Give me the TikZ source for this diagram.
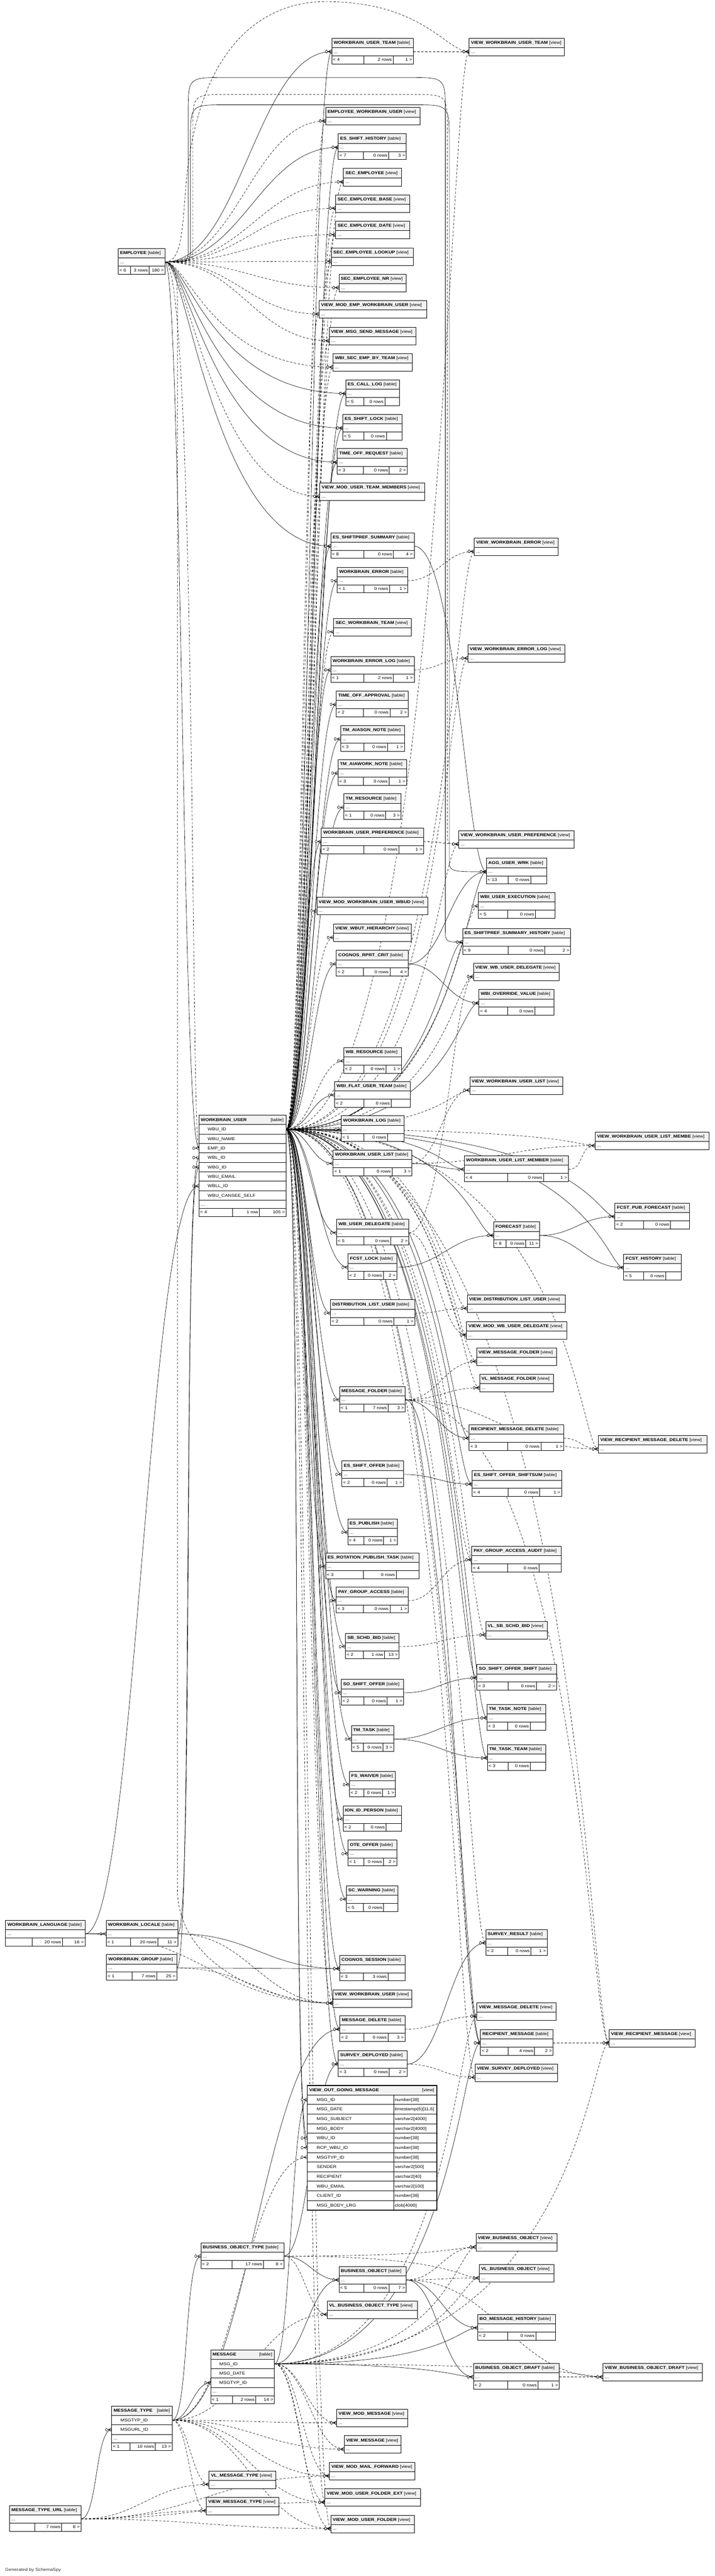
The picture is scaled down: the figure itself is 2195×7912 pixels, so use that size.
\documentclass[tikz,border=0pt]{standalone}
\usepackage{fontspec}
\setmainfont{Liberation Sans}[FakeStretch=1.15]
\usetikzlibrary{calc}
\pgfdeclarelayer{bg}
\pgfdeclarelayer{edges}
\pgfsetlayers{bg,edges,main}
\tikzset{
 tb/.style={draw=black,line width=1.1pt,fill=white},
 hd/.style={draw=black,line width=1.1pt,fill=black!5},
 tx/.style={inner sep=0pt,outer sep=0pt,text height=10.5pt,text depth=1.4pt,font=\fontsize{12.7}{15}\selectfont},
 fks/.style={line width=1pt},
 fkd/.style={line width=1pt,dash pattern=on 7pt off 5pt},
 mkline/.style={line width=1pt},
}
\def\divsplit#1/#2\relax{\def\dA{#1}\def\dB{#2}}
% standard table: id, x, y, width, title, footer1, footer2, footer3, dividers (a/b or empty)
\newcommand\dbtable[9]{%
 \if\relax\detokenize{#9}\relax
   \pgfmathsetmacro\dA{#4/2-27}\pgfmathsetmacro\dB{\dA+0.59*(#4-\dA)}%
 \else\divsplit#9\relax\fi
 \begin{scope}[shift={(#2,#3)}]
  \path[hd] (0,0) rectangle (#4,29);
  \path[tb] (0,29) rectangle (#4,54);
  \path[tb] (0,54) rectangle (#4,79);
  \draw[line width=1.1pt] (\dA,54) -- (\dA,79) (\dB,54) -- (\dB,79);
  \node[tx,anchor=west] (#1-t) at (6,13.5) {\textbf{#5} [table]};
  \node[tx,anchor=west] (#1-d) at (6,41.5) {...};
  \node[tx,anchor=west] (#1-a) at (4,66.5) {#6};
  \node[tx,anchor=east] (#1-b) at ({\dB-4},66.5) {#7};
  \node[tx,anchor=east] (#1-c) at ({#4-4},66.5) {#8};
  \coordinate (#1-l) at (0,41.5);
  \coordinate (#1-r) at (#4,41.5);
 \end{scope}}
% view: id, x, y, width, title
\newcommand\dbview[5]{%
 \begin{scope}[shift={(#2,#3)}]
  \path[hd] (0,0) rectangle (#4,29);
  \path[tb] (0,29) rectangle (#4,54);
  \node[tx,anchor=west] (#1-t) at (6,13.5) {\textbf{#5} [view]};
  \node[tx,anchor=west] (#1-d) at (6,41.5) {...};
  \coordinate (#1-l) at (0,41.5);
  \coordinate (#1-r) at (#4,41.5);
 \end{scope}}
% column row of a detailed table: node name, top, width, text, height
\newcommand\colrow[5]{%
 \path[tb] (0,#2) rectangle (#3,{#2+#5});
 \node[tx,anchor=west] (#1) at (27,{#2+#5/2}) {#4};}
% row of VIEW_OUT_GOING_MESSAGE
\newcommand\vogrow[4]{%
 \path[tb] (0,#2) rectangle (265,{#2+29.5});
 \path[tb] (265,#2) rectangle (398,{#2+29.5});
 \node[tx,anchor=west] (vogm-n#1) at (29,{#2+14.75}) {#3};
 \node[tx,anchor=west] (vogm-y#1) at (269,{#2+14.75}) {#4};}
% crow's foot with open circle at the child end
\newcommand\fkmark[1]{%
 \begin{scope}[shift={(#1)}]
  \draw[mkline] (-11,0) -- (0,-5.5) (-11,0) -- (0,0) (-11,0) -- (0,5.5);
  \draw[mkline,fill=white] (-16,0) ellipse[x radius=3pt,y radius=4.3pt];
 \end{scope}}
% connector parent -> child
\newcommand\fklink[3][fks]{%
 \draw[#1] let \p1=(#2), \p2=(#3),
   \n3={and(\x2>1350,or(\x1<1000,abs(\y2-\y1)>600))},
   \n1={ifthenelse(\n3,\x2-90,\x1+max(50,0.45*(\x2-\x1)))},
   \n2={ifthenelse(\n3,\x2-60,\x2-max(50,0.45*(\x2-\x1)))}
   in (\p1) .. controls (\n1,\y1) and (\n2,\y2) .. (\p2);
 \fkmark{#3}}
% connector that first hangs down beside the parent
\newcommand\fkhang[3][fks]{%
 \draw[#1] let \p1=(#2), \p2=(#3) in
   (\p1) .. controls (\x1+70,\y1) and (\x1+150,\y2) .. (\p2);
 \fkmark{#3}}
% connector routed over the top: style, parent, child, x up, y top, x down, radius
\newcommand\fkover[7][fks]{%
 \draw[#1] let \p1=(#2), \p2=(#3), \p3=(#4,#5), \p4=(#6,#5) in
  (\p1) .. controls (\x3,\y1) and (\x3,\y1) .. (\x3,\y1+40)
  -- (\x3,\y3-#7)
  .. controls (\x3,\y3) and (\x3,\y3) .. (\x3+#7,\y3)
  -- (\x4-#7,\y3)
  .. controls (\x4,\y3) and (\x4,\y3) .. (\x4,\y3-#7)
  -- (\x4,\y2+40)
  .. controls (\x4,\y2) and (\x4,\y2) .. (\p2);
 \fkmark{#3}}

\begin{document}
\begin{tikzpicture}[x=1pt,y=-1pt]
\useasboundingbox (0,0) rectangle (2195,7912);
\begin{pgfonlayer}{bg}
\fill[white] (0,0) rectangle (2195,7912);
\end{pgfonlayer}

% ---------------- tables and views ----------------
\dbtable{emp}{363}{763}{144}{EMPLOYEE}{< 6}{3 rows}{180 >}{38/95}
\dbtable{wut}{1019}{117}{251}{WORKBRAIN\_USER\_TEAM}{< 4}{2 rows}{1 >}{}
\dbview{vwut}{1441}{117}{293}{VIEW\_WORKBRAIN\_USER\_TEAM}
\dbview{ewu}{1000}{330}{290}{EMPLOYEE\_WORKBRAIN\_USER}
\dbtable{esh}{1039}{411}{209}{ES\_SHIFT\_HISTORY}{< 7}{0 rows}{3 >}{}
\dbview{sece}{1055}{517}{179}{SEC\_EMPLOYEE}
\dbview{seceb}{1031}{598}{227}{SEC\_EMPLOYEE\_BASE}
\dbview{secd}{1031}{679}{227}{SEC\_EMPLOYEE\_DATE}
\dbview{secl}{1018}{761}{252}{SEC\_EMPLOYEE\_LOOKUP}
\dbview{secn}{1041}{842}{207}{SEC\_EMPLOYEE\_NR}
\dbview{vmewu}{980}{923}{330}{VIEW\_MOD\_EMP\_WORKBRAIN\_USER}
\dbview{vmsm}{1011}{1005}{267}{VIEW\_MSG\_SEND\_MESSAGE}
\dbview{wsebt}{1023}{1086}{244}{WBI\_SEC\_EMP\_BY\_TEAM}
\dbtable{ecl}{1062}{1167}{165}{ES\_CALL\_LOG}{< 5}{0 rows}{}{}
\dbtable{esl}{1053}{1273}{182}{ES\_SHIFT\_LOCK}{< 5}{0 rows}{}{}
\dbtable{tor}{1036}{1378}{215}{TIME\_OFF\_REQUEST}{< 3}{0 rows}{2 >}{}
\dbview{vmutm}{982}{1483}{323}{VIEW\_MOD\_USER\_TEAM\_MEMBERS}
\dbtable{essum}{1016}{1636}{256}{ES\_SHIFTPREF\_SUMMARY}{< 8}{0 rows}{4 >}{}
\dbview{vwe}{1457}{1652}{258}{VIEW\_WORKBRAIN\_ERROR}
\dbtable{wer}{1036}{1742}{216}{WORKBRAIN\_ERROR}{< 1}{0 rows}{1 >}{}
\dbview{swt}{1025}{1899}{239}{SEC\_WORKBRAIN\_TEAM}
\dbview{vwel}{1437}{1980}{298}{VIEW\_WORKBRAIN\_ERROR\_LOG}
\dbtable{werl}{1016}{2016}{256}{WORKBRAIN\_ERROR\_LOG}{< 1}{2 rows}{1 >}{}
\dbtable{toa}{1033}{2122}{221}{TIME\_OFF\_APPROVAL}{< 2}{0 rows}{2 >}{}
\dbtable{tmas}{1046}{2228}{196}{TM\_AIASGN\_NOTE}{< 3}{0 rows}{1 >}{}
\dbtable{tmaw}{1038}{2333}{211}{TM\_AIAWORK\_NOTE}{< 3}{0 rows}{1 >}{}
\dbtable{tmr}{1056}{2438}{176}{TM\_RESOURCE}{< 1}{0 rows}{3 >}{}
\dbtable{wup}{987}{2543}{314}{WORKBRAIN\_USER\_PREFERENCE}{< 2}{0 rows}{1 >}{}
\dbview{vwup}{1409}{2551}{355}{VIEW\_WORKBRAIN\_USER\_PREFERENCE}
\dbtable{agg}{1494}{2636}{186}{AGG\_USER\_WRK}{< 13}{0 rows}{}{}
\dbtable{wue}{1469}{2741}{235}{WBI\_USER\_EXECUTION}{< 5}{0 rows}{}{}
\dbview{vmwuw}{973}{2756}{341}{VIEW\_MOD\_WORKBRAIN\_USER\_WBUD}
\dbview{vwh}{1024}{2838}{240}{VIEW\_WBUT\_HIERARCHY}
\dbtable{essh}{1421}{2852}{332}{ES\_SHIFTPREF\_SUMMARY\_HISTORY}{< 9}{0 rows}{2 >}{}
\dbtable{crc}{1033}{2919}{221}{COGNOS\_RPRT\_CRIT}{< 2}{0 rows}{4 >}{}
\dbview{vwbud}{1454}{2958}{264}{VIEW\_WB\_USER\_DELEGATE}
\dbtable{wov}{1471}{3039}{230}{WBI\_OVERRIDE\_VALUE}{< 4}{0 rows}{}{}
\dbtable{wbr}{1056}{3217}{177}{WB\_RESOURCE}{< 2}{0 rows}{1 >}{}
\dbview{vwul}{1443}{3307}{286}{VIEW\_WORKBRAIN\_USER\_LIST}
\dbtable{wfut}{1028}{3322}{232}{WBI\_FLAT\_USER\_TEAM}{< 2}{0 rows}{}{}
\dbtable{wlog}{1048}{3427}{193}{WORKBRAIN\_LOG}{< 1}{0 rows}{}{}
\dbview{vwulm}{1828}{3477}{350}{VIEW\_WORKBRAIN\_USER\_LIST\_MEMBE}
\dbtable{wul}{1023}{3532}{242}{WORKBRAIN\_USER\_LIST}{< 1}{0 rows}{3 >}{}
\dbtable{wulm}{1426}{3550}{320}{WORKBRAIN\_USER\_LIST\_MEMBER}{< 4}{0 rows}{1 >}{}
\dbtable{fpf}{1889}{3695}{229}{FCST\_PUB\_FORECAST}{< 2}{0 rows}{}{}
\dbtable{wud}{1034}{3745}{222}{WB\_USER\_DELEGATE}{< 5}{0 rows}{2 >}{}
\dbtable{fc}{1516}{3753}{141}{FORECAST}{< 8}{0 rows}{11 >}{39/99}
\dbtable{fl}{1069}{3851}{150}{FCST\_LOCK}{< 2}{0 rows}{2 >}{}
\dbtable{fh}{1916}{3852}{176}{FCST\_HISTORY}{< 5}{0 rows}{}{}
\dbview{vdlu}{1435}{3977}{301}{VIEW\_DISTRIBUTION\_LIST\_USER}
\dbtable{dlu}{1015}{3992}{259}{DISTRIBUTION\_LIST\_USER}{< 2}{0 rows}{1 >}{}
\dbview{vmwud}{1433}{4059}{308}{VIEW\_MOD\_WB\_USER\_DELEGATE}
\dbview{vmf}{1464}{4140}{245}{VIEW\_MESSAGE\_FOLDER}
\dbview{vlmf}{1473}{4221}{227}{VL\_MESSAGE\_FOLDER}
\dbtable{mf}{1043}{4258}{202}{MESSAGE\_FOLDER}{< 1}{7 rows}{3 >}{}
\dbtable{rmd}{1441}{4376}{291}{RECIPIENT\_MESSAGE\_DELETE}{< 3}{0 rows}{1 >}{}
\dbview{vrmd}{1838}{4409}{333}{VIEW\_RECIPIENT\_MESSAGE\_DELETE}
\dbtable{eso}{1050}{4487}{189}{ES\_SHIFT\_OFFER}{< 2}{0 rows}{1 >}{}
\dbtable{esos}{1450}{4517}{275}{ES\_SHIFT\_OFFER\_SHIFTSUM}{< 4}{0 rows}{1 >}{}
\dbtable{esp}{1068}{4665}{153}{ES\_PUBLISH}{< 4}{0 rows}{1 >}{}
\dbtable{pgaa}{1449}{4749}{274}{PAY\_GROUP\_ACCESS\_AUDIT}{< 4}{0 rows}{}{}
\dbtable{erpt}{1000}{4770}{287}{ES\_ROTATION\_PUBLISH\_TASK}{< 3}{0 rows}{}{}
\dbtable{pga}{1033}{4875}{221}{PAY\_GROUP\_ACCESS}{< 3}{0 rows}{1 >}{}
\dbview{vlsb}{1492}{4980}{189}{VL\_SB\_SCHD\_BID}
\dbtable{ssb}{1061}{5016}{165}{SB\_SCHD\_BID}{< 2}{1 row}{13 >}{}
\dbtable{soss}{1465}{5112}{244}{SO\_SHIFT\_OFFER\_SHIFT}{< 3}{0 rows}{2 >}{}
\dbtable{so}{1048}{5158}{192}{SO\_SHIFT\_OFFER}{< 2}{0 rows}{1 >}{}
\dbtable{ttn}{1496}{5235}{181}{TM\_TASK\_NOTE}{< 3}{0 rows}{}{}
\dbtable{tt}{1079}{5300}{130}{TM\_TASK}{< 5}{0 rows}{3 >}{37/97}
\dbtable{ttt}{1497}{5358}{180}{TM\_TASK\_TEAM}{< 3}{0 rows}{}{}
\dbtable{fsw}{1073}{5440}{142}{FS\_WAIVER}{< 2}{0 rows}{1 >}{}
\dbtable{iip}{1054}{5546}{180}{ION\_ID\_PERSON}{< 2}{0 rows}{}{}
\dbtable{ote}{1069}{5652}{150}{OTE\_OFFER}{< 1}{0 rows}{2 >}{}
\dbtable{scw}{1064}{5792}{158}{SC\_WARNING}{< 5}{0 rows}{}{}
\dbtable{wlang}{17}{5898}{244}{WORKBRAIN\_LANGUAGE}{}{20 rows}{16 >}{81/175}
\dbtable{wloc}{326}{5898}{220}{WORKBRAIN\_LOCALE}{< 1}{20 rows}{11 >}{75/159}
\dbtable{sr}{1492}{5926}{189}{SURVEY\_RESULT}{< 2}{0 rows}{1 >}{}
\dbtable{wgrp}{327}{6003}{216}{WORKBRAIN\_GROUP}{< 1}{7 rows}{25 >}{78/155}
\dbtable{cs}{1043}{6005}{201}{COGNOS\_SESSION}{< 3}{3 rows}{}{}
\dbview{vwu}{1022}{6111}{243}{VIEW\_WORKBRAIN\_USER}
\dbview{vmd}{1465}{6151}{243}{VIEW\_MESSAGE\_DELETE}
\dbtable{md}{1044}{6191}{200}{MESSAGE\_DELETE}{< 2}{0 rows}{3 >}{}
\dbtable{rm}{1476}{6233}{223}{RECIPIENT\_MESSAGE}{< 2}{4 rows}{2 >}{}
\dbview{vrm}{1871}{6233}{264}{VIEW\_RECIPIENT\_MESSAGE}
\dbtable{sd}{1039}{6298}{211}{SURVEY\_DEPLOYED}{< 3}{0 rows}{2 >}{}
\dbview{vsd}{1459}{6339}{254}{VIEW\_SURVEY\_DEPLOYED}
\dbview{vbo}{1462}{6860}{249}{VIEW\_BUSINESS\_OBJECT}
\dbtable{bot}{617}{6888}{255}{BUSINESS\_OBJECT\_TYPE}{< 2}{17 rows}{8 >}{96/192}
\dbview{vlbo}{1472}{6955}{229}{VL\_BUSINESS\_OBJECT}
\dbtable{bo}{1041}{6961}{207}{BUSINESS\_OBJECT}{< 5}{0 rows}{7 >}{}
\dbview{vlbot}{1005}{7067}{277}{VL\_BUSINESS\_OBJECT\_TYPE}
\dbtable{bmh}{1467}{7108}{239}{BO\_MESSAGE\_HISTORY}{< 2}{0 rows}{}{}
\dbtable{bod}{1454}{7259}{264}{BUSINESS\_OBJECT\_DRAFT}{< 2}{0 rows}{1 >}{}
\dbview{vbod}{1852}{7259}{305}{VIEW\_BUSINESS\_OBJECT\_DRAFT}
\dbview{vmm}{1034}{7400}{218}{VIEW\_MOD\_MESSAGE}
\dbview{vm}{1057}{7481}{174}{VIEW\_MESSAGE}
\dbview{vmmf}{1012}{7563}{263}{VIEW\_MOD\_MAIL\_FORWARD}
\dbview{vlmt}{642}{7589}{205}{VL\_MESSAGE\_TYPE}
\dbview{vmufe}{998}{7644}{293}{VIEW\_MOD\_USER\_FOLDER\_EXT}
\dbview{vmt}{634}{7670}{222}{VIEW\_MESSAGE\_TYPE}
\dbview{vmuf}{1016}{7725}{257}{VIEW\_MOD\_USER\_FOLDER}
\dbtable{mtu}{29}{7695}{220}{MESSAGE\_TYPE\_URL}{}{7 rows}{8 >}{77/160}

% WORKBRAIN_USER
\begin{scope}[shift={(611,3425)}]
 \path[hd] (0,0) rectangle (268,29);
 \node[tx,anchor=west] (wbu-t) at (6,14) {\textbf{WORKBRAIN\_USER}};
 \node[tx,anchor=east] (wbu-k) at (260,14) {[table]};
 \colrow{wbu-c1}{29}{268}{WBU\_ID}{29}
 \colrow{wbu-c2}{58}{268}{WBU\_NAME}{29}
 \colrow{wbu-c3}{87}{268}{EMP\_ID}{29}
 \colrow{wbu-c4}{116}{268}{WBL\_ID}{29}
 \colrow{wbu-c5}{145}{268}{WBG\_ID}{29}
 \colrow{wbu-c6}{174}{268}{WBU\_EMAIL}{29}
 \colrow{wbu-c7}{203}{268}{WBLL\_ID}{29}
 \colrow{wbu-c8}{232}{268}{WBU\_CANSEE\_SELF}{29}
 \path[tb] (0,261) rectangle (268,286);
 \node[tx,anchor=west] (wbu-d) at (6,273.5) {...};
 \path[tb] (0,286) rectangle (268,311);
 \draw[line width=1.1pt] (103,286) -- (103,311) (186,286) -- (186,311);
 \node[tx,anchor=west] (wbu-a) at (4,298.5) {< 4};
 \node[tx,anchor=east] (wbu-b) at (182,298.5) {1 row};
 \node[tx,anchor=east] (wbu-c) at (264,298.5) {105 >};
 \coordinate (wbu-r) at (268,43.5);
 \coordinate (wbu-emp) at (0,101.5);
 \coordinate (wbu-wbl) at (0,130.5);
 \coordinate (wbu-wbg) at (0,159.5);
 \coordinate (wbu-wbll) at (0,217.5);
\end{scope}

% MESSAGE
\begin{scope}[shift={(647,7217)}]
 \path[hd] (0,0) rectangle (196,29);
 \node[tx,anchor=west] (msg-t) at (6,14) {\textbf{MESSAGE}};
 \node[tx,anchor=east] (msg-k) at (189,14) {[table]};
 \colrow{msg-c1}{29}{196}{MSG\_ID}{29}
 \colrow{msg-c2}{58}{196}{MSG\_DATE}{29}
 \colrow{msg-c3}{87}{196}{MSGTYP\_ID}{29}
 \path[tb] (0,116) rectangle (196,141);
 \node[tx,anchor=west] (msg-d) at (6,128.5) {...};
 \path[tb] (0,141) rectangle (196,166);
 \draw[line width=1.1pt] (67,141) -- (67,166) (139,141) -- (139,166);
 \node[tx,anchor=west] (msg-a) at (4,153.5) {< 1};
 \node[tx,anchor=east] (msg-b) at (135,153.5) {2 rows};
 \node[tx,anchor=east] (msg-c) at (192,153.5) {14 >};
 \coordinate (msg-r) at (196,43.5);
 \coordinate (msg-typ) at (0,101.5);
\end{scope}

% MESSAGE_TYPE
\begin{scope}[shift={(343,7390)}]
 \path[hd] (0,0) rectangle (186,29);
 \node[tx,anchor=west] (mt-t) at (6,14) {\textbf{MESSAGE\_TYPE}};
 \node[tx,anchor=east] (mt-k) at (179,14) {[table]};
 \colrow{mt-c1}{29}{186}{MSGTYP\_ID}{29}
 \colrow{mt-c2}{58}{186}{MSGURL\_ID}{29}
 \path[tb] (0,87) rectangle (186,112);
 \node[tx,anchor=west] (mt-d) at (6,99.5) {...};
 \path[tb] (0,112) rectangle (186,137);
 \draw[line width=1.1pt] (57,112) -- (57,137) (134,112) -- (134,137);
 \node[tx,anchor=west] (mt-a) at (4,124.5) {< 1};
 \node[tx,anchor=east] (mt-b) at (130,124.5) {10 rows};
 \node[tx,anchor=east] (mt-c) at (182,124.5) {13 >};
 \coordinate (mt-r) at (186,43.5);
 \coordinate (mt-url) at (0,72.5);
\end{scope}

% VIEW_OUT_GOING_MESSAGE
\begin{scope}[shift={(944,6405)}]
 \path[hd] (0,0) rectangle (398,29);
 \node[tx,anchor=west] (vogm-t) at (6,14) {\textbf{VIEW\_OUT\_GOING\_MESSAGE}};
 \node[tx,anchor=east] (vogm-k) at (390,14) {[view]};
 \vogrow{1}{29}{MSG\_ID}{number[38]}
 \vogrow{2}{58.5}{MSG\_DATE}{timestamp(6)[11,6]}
 \vogrow{3}{88}{MSG\_SUBJECT}{varchar2[4000]}
 \vogrow{4}{117.5}{MSG\_BODY}{varchar2[4000]}
 \vogrow{5}{147}{WBU\_ID}{number[38]}
 \vogrow{6}{176.5}{RCP\_WBU\_ID}{number[38]}
 \vogrow{7}{206}{MSGTYP\_ID}{number[38]}
 \vogrow{8}{235.5}{SENDER}{varchar2[500]}
 \vogrow{9}{265}{RECIPIENT}{varchar2[40]}
 \vogrow{10}{294.5}{WBU\_EMAIL}{varchar2[100]}
 \vogrow{11}{324}{CLIENT\_ID}{number[38]}
 \vogrow{12}{353.5}{MSG\_BODY\_LRG}{clob[4000]}
 \draw[line width=2.6pt] (0,0) rectangle (398,383);
 \coordinate (vogm-msg) at (0,43.75);
 \coordinate (vogm-wbu) at (0,161.75);
 \coordinate (vogm-rcp) at (0,191.25);
 \coordinate (vogm-typ) at (0,220.75);
\end{scope}

\node[tx,anchor=west,text=black!80] (gen) at (16,7892) {Generated by SchemaSpy};

% ---------------- connectors ----------------
\begin{pgfonlayer}{edges}
% EMPLOYEE
\foreach \ch in {wut-l,esh-l,wbu-emp}{\fklink{emp-r}{\ch}}
\foreach \ch in {ecl-l,esl-l,tor-l,essum-l}{\fkhang{emp-r}{\ch}}
\fkover{emp-r}{essh-l}{578}{238}{1368}{110}
\fkover{emp-r}{agg-l}{585}{322}{1380}{110}
\fkover[fkd]{emp-r}{vwup-l}{592}{290}{1374}{110}
\draw[fkd] (emp-r) .. controls (560,804) and (560,700) .. (572,560) .. controls (610,150) and (800,5) .. (1000,5) .. controls (1300,5) and (1370,158) .. (vwut-l);
\fkmark{vwut-l}
\draw[fkd] (emp-r) .. controls (540,804) and (545,850) .. (545,950) -- (545,5800) .. controls (545,6050) and (850,6152) .. (vwu-l);
\fkmark{vwu-l}
\draw[fkd] (emp-r) .. controls +(95,0) and +(-25,0) .. (wbu-emp);
\foreach \ch in {ewu-l,sece-l,seceb-l,secd-l,secl-l,secn-l,vmewu-l,vmsm-l}{\fklink[fkd]{emp-r}{\ch}}
\foreach \ch in {wsebt-l,vmutm-l}{\fkhang[fkd]{emp-r}{\ch}}
% WORKBRAIN_USER
\foreach \ch in {wut-l,esh-l,ecl-l,esl-l,tor-l,essum-l,wer-l,werl-l,toa-l,tmas-l,tmaw-l,tmr-l,wup-l,agg-l,essh-l,crc-l,wov-l,wfut-l,wlog-l,wul-l,wulm-l,fpf-l,wud-l,fc-l,fl-l,fh-l,dlu-l,mf-l,rmd-l,eso-l,esos-l,esp-l,erpt-l,pga-l,ssb-l,soss-l,so-l,ttn-l,tt-l,ttt-l,fsw-l,iip-l,ote-l,scw-l,cs-l,md-l,rm-l,sd-l,vogm-wbu,vogm-rcp}{\fklink{wbu-r}{\ch}}
\foreach \ch in {vwut-l,ewu-l,sece-l,seceb-l,secd-l,secl-l,secn-l,vmewu-l,vmsm-l,wsebt-l,vmutm-l,vwe-l,swt-l,vwel-l,vwup-l,wue-l,vmwuw-l,vwh-l,vwbud-l,wbr-l,vwul-l,vwulm-l,vdlu-l,vmwud-l,vmf-l,vlmf-l,vrmd-l,pgaa-l,vlsb-l,sr-l,vwu-l,vmd-l,vrm-l,vsd-l,vmuf-l,vmufe-l}{\fklink[fkd]{wbu-r}{\ch}}
% table to table / view
\fklink[fkd]{wut-r}{vwut-l}
\fklink[fkd]{wer-r}{vwe-l}
\fklink[fkd]{werl-r}{vwel-l}
\fklink[fkd]{wup-r}{vwup-l}
\fklink{essum-r}{agg-l}
\fklink{crc-r}{agg-l}
\fklink{crc-r}{wov-l}
\fklink[fkd]{wud-r}{vwbud-l}
\fklink[fkd]{wud-r}{vmwud-l}
\fklink[fkd]{wul-r}{vwul-l}
\fklink{wul-r}{wulm-l}
\fklink[fkd]{wul-r}{vwulm-l}
\fklink[fkd]{wulm-r}{vwulm-l}
\fklink{fc-r}{fpf-l}
\fklink{fc-r}{fh-l}
\fklink{fl-r}{fc-l}
\fklink[fkd]{dlu-r}{vdlu-l}
\fklink[fkd]{mf-r}{vmf-l}
\fklink[fkd]{mf-r}{vlmf-l}
\fklink{mf-r}{rmd-l}
\fklink[fkd]{mf-r}{vrmd-l}
\fklink{mf-r}{rm-l}
\fklink[fkd]{mf-r}{vrm-l}
\fklink[fkd]{rmd-r}{vrmd-l}
\fklink{eso-r}{esos-l}
\fklink[fkd]{pga-r}{pgaa-l}
\fklink[fkd]{ssb-r}{vlsb-l}
\fklink{so-r}{soss-l}
\fklink{tt-r}{ttn-l}
\fklink{tt-r}{ttt-l}
\fklink[fkd]{md-r}{vmd-l}
\fklink{sd-r}{sr-l}
\fklink[fkd]{sd-r}{vsd-l}
\fklink[fkd]{rm-r}{vrm-l}
% message types and messages
\foreach \ch in {bot-l,msg-typ,md-l}{\fklink{mt-r}{\ch}}
\foreach \ch in {vogm-typ,vlbot-l,vlmt-l,vmt-l,vmm-l,vm-l,vmmf-l,vmufe-l,vmuf-l}{\fklink[fkd]{mt-r}{\ch}}
\fklink{mtu-r}{mt-url}
\foreach \ch in {vlmt-l,vmt-l,vmmf-l,vmufe-l,vmuf-l}{\fklink[fkd]{mtu-r}{\ch}}
\foreach \ch in {bo-l,rm-l,bmh-l,bod-l,vogm-msg}{\fklink{msg-r}{\ch}}
\foreach \ch in {vbo-l,vlbo-l,vbod-l,vrm-l,vmm-l,vm-l,vmmf-l,vmufe-l,vmuf-l,vmd-l}{\fklink[fkd]{msg-r}{\ch}}
\foreach \ch in {bo-l,sd-l}{\fklink{bot-r}{\ch}}
\foreach \ch in {vbo-l,vlbo-l,vlbot-l}{\fklink[fkd]{bot-r}{\ch}}
\foreach \ch in {bmh-l,bod-l}{\fklink{bo-r}{\ch}}
\foreach \ch in {vbo-l,vlbo-l,vbod-l}{\fklink[fkd]{bo-r}{\ch}}
\fklink[fkd]{bod-r}{vbod-l}
% languages, locales, groups
\fklink{wlang-r}{wloc-l}
\fklink{wlang-r}{wbu-wbll}
\fklink[fkd]{wlang-r}{vwu-l}
\fklink{wloc-r}{wbu-wbl}
\fklink{wloc-r}{cs-l}
\fklink[fkd]{wloc-r}{vwu-l}
\fklink{wgrp-r}{wbu-wbg}
\fklink{wgrp-r}{cs-l}
\fklink[fkd]{wgrp-r}{vwu-l}
\end{pgfonlayer}
\end{tikzpicture}
\end{document}
